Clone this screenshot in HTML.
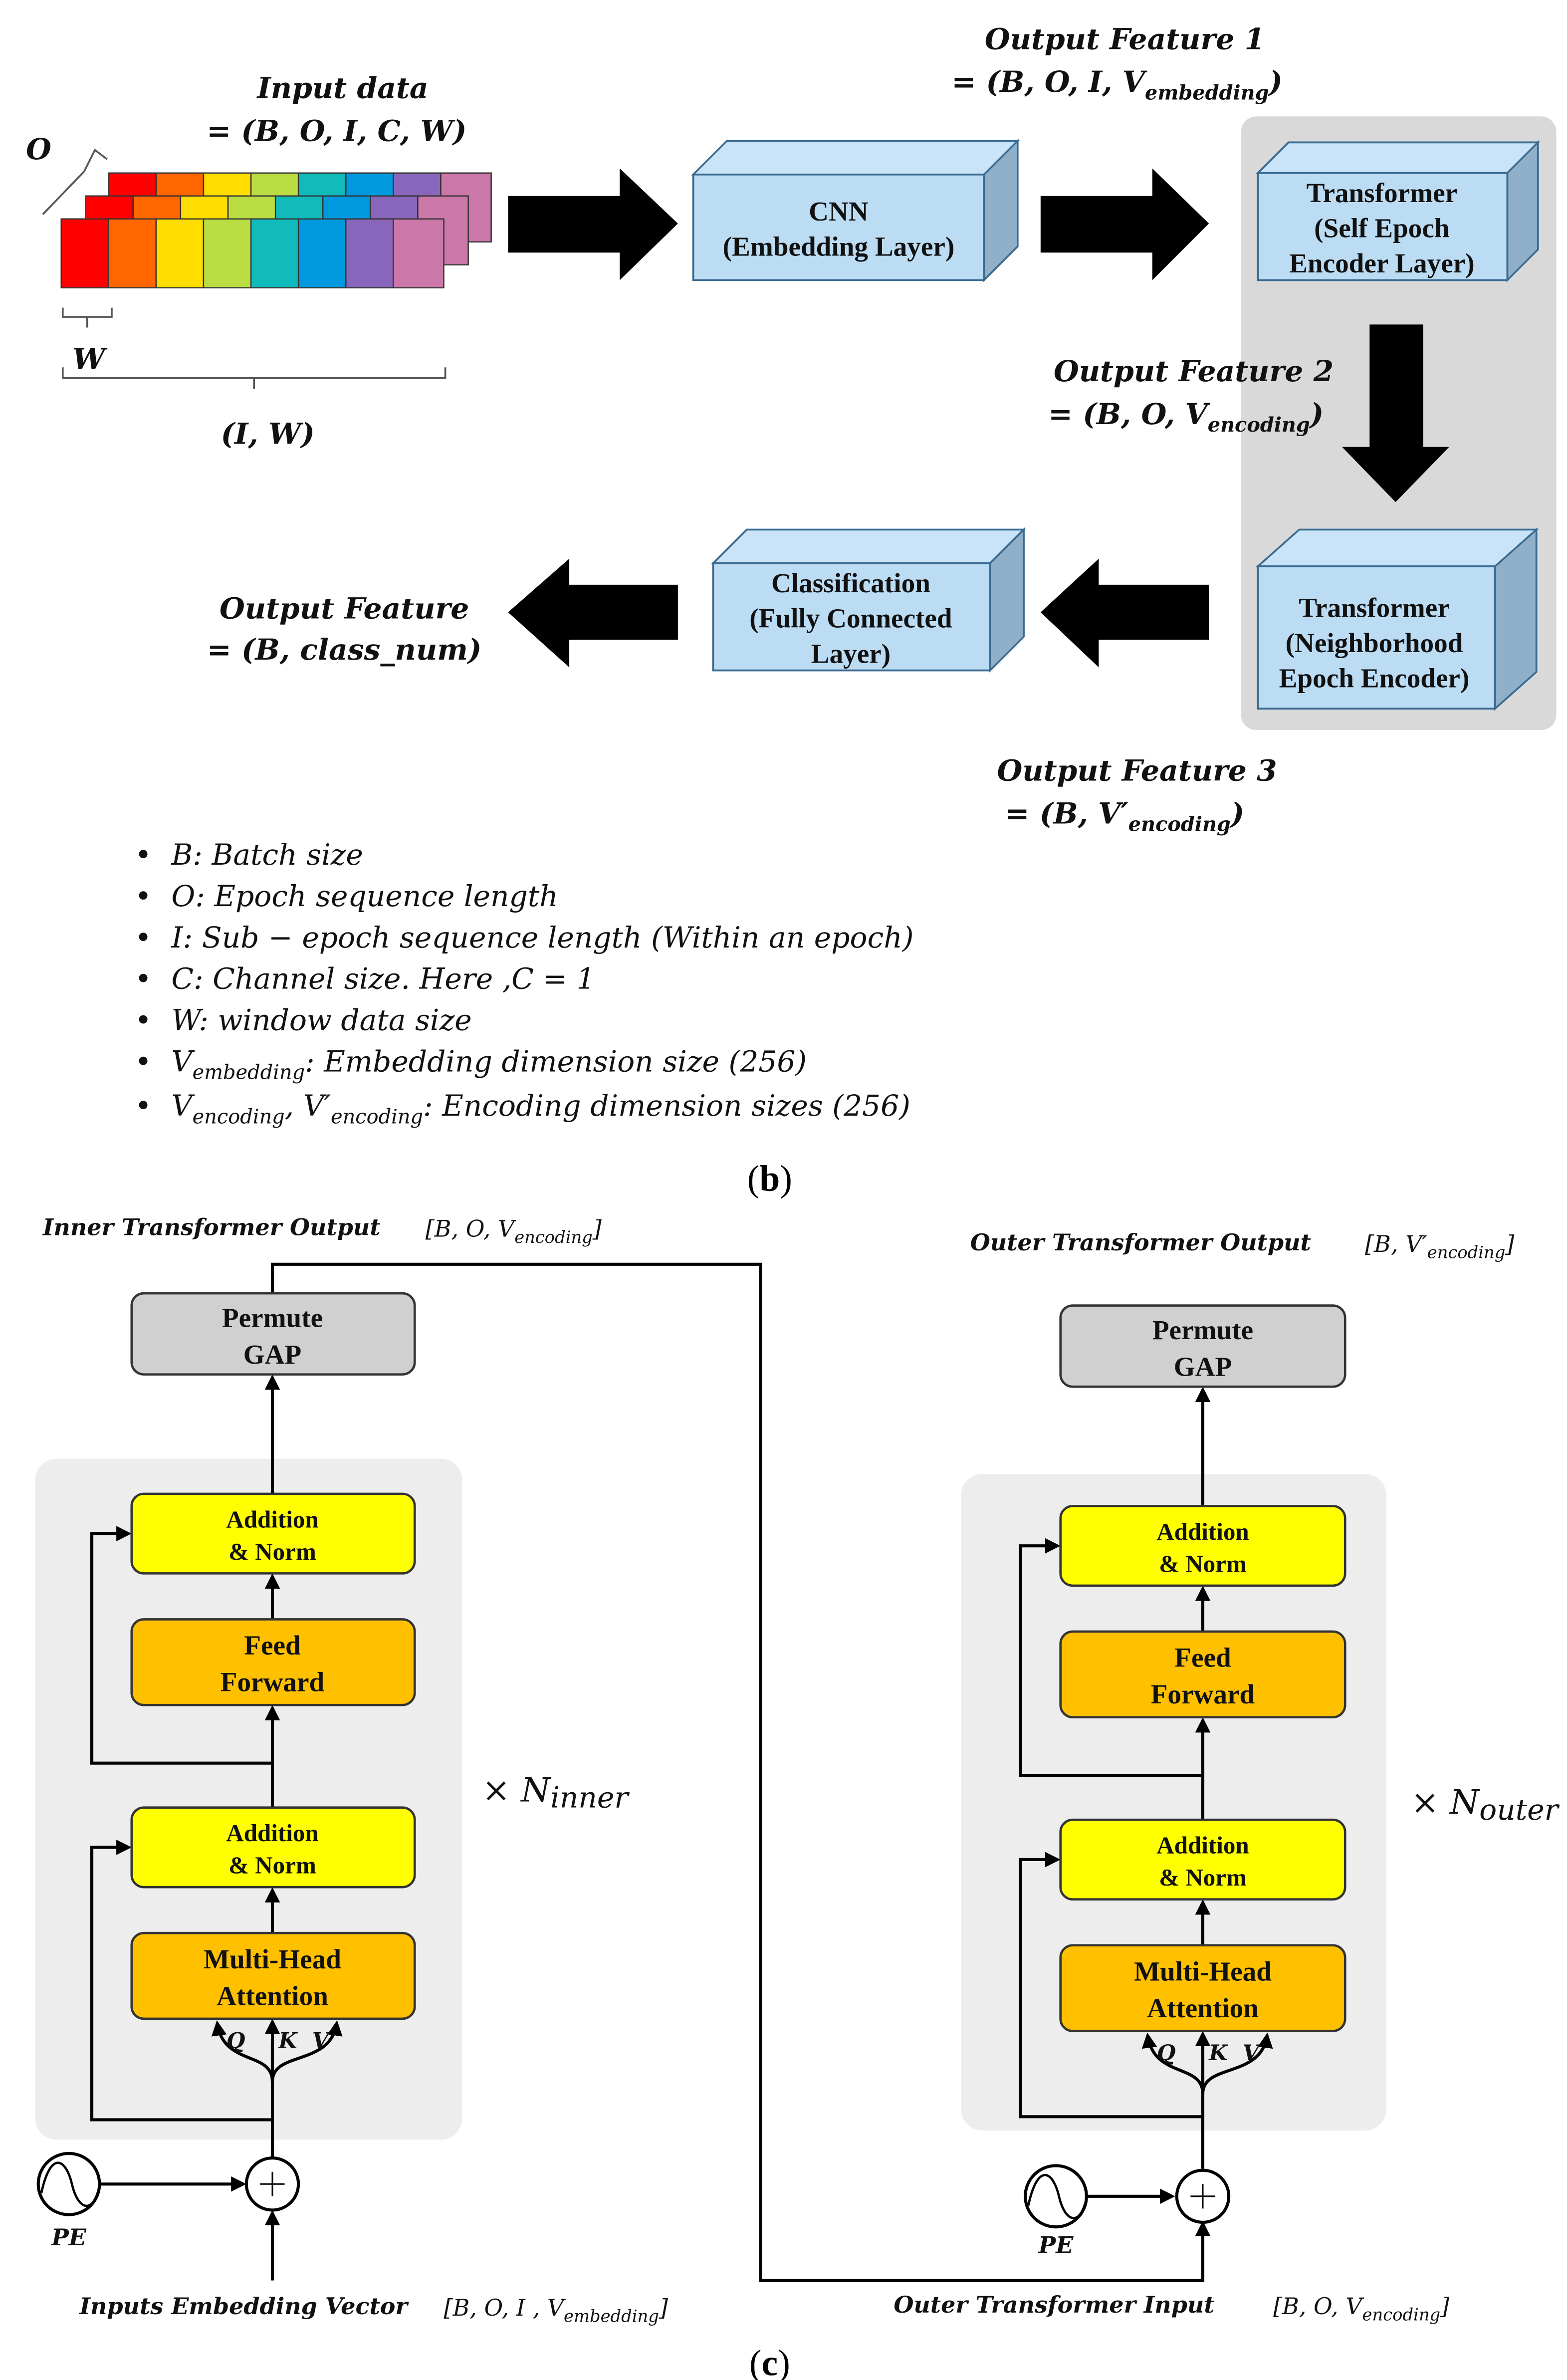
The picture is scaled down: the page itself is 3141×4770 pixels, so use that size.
<!DOCTYPE html>
<html><head><meta charset="utf-8"><style>
html,body{margin:0;padding:0;background:#fff;}
svg{display:block;}
.bx{font-family:"Liberation Serif",serif;font-weight:bold;text-anchor:middle;fill:#111;}
.m{font-family:"DejaVu Serif",serif;font-style:italic;fill:#111;}
.mb{font-family:"DejaVu Serif",serif;font-style:italic;font-weight:bold;fill:#111;}
</style></head><body>
<svg width="3141" height="4770" viewBox="0 0 1024 1555" xmlns="http://www.w3.org/2000/svg">
<defs>
<marker id="ah" markerWidth="10" markerHeight="10" refX="8" refY="5" orient="auto" markerUnits="userSpaceOnUse"><path d="M0,0 L10,5 L0,10 Z" fill="#000"/></marker>
</defs>
<rect width="1024" height="1555" fill="#fff"/>

<!-- gray panel -->
<rect x="811" y="76" width="206" height="401" rx="10" fill="#d9d9d9"/>

<!-- TOP -->
<text class="mb" x="735" y="32" font-size="19" text-anchor="middle">Output Feature 1</text>
<text class="mb" x="730" y="60" font-size="19" text-anchor="middle">= (B, O, I, V<tspan font-size="13" dy="5">embedding</tspan><tspan dy="-5">)</tspan></text>
<text class="mb" x="224" y="64" font-size="19" text-anchor="middle">Input data</text>
<text class="mb" x="220" y="92" font-size="19" text-anchor="middle">= (B, O, I, C, W)</text>
<text class="mb" x="17" y="104" font-size="19">O</text>
<path d="M28,140 L55,112 M55,112 L62,98 L70,104" stroke="#555" fill="none" stroke-width="1.2"/>

<g stroke="#333" stroke-width="0.8">
<g transform="translate(71,113)">
<rect x="0" width="31" height="45" fill="#f00"/><rect x="31" width="31" height="45" fill="#f60"/><rect x="62" width="31" height="45" fill="#fd0"/><rect x="93" width="31" height="45" fill="#bd4"/><rect x="124" width="31" height="45" fill="#1bb"/><rect x="155" width="31" height="45" fill="#09d"/><rect x="186" width="31" height="45" fill="#86b"/><rect x="217" width="33" height="45" fill="#c7a"/></g>
<g transform="translate(56,128)">
<rect x="0" width="31" height="45" fill="#f00"/><rect x="31" width="31" height="45" fill="#f60"/><rect x="62" width="31" height="45" fill="#fd0"/><rect x="93" width="31" height="45" fill="#bd4"/><rect x="124" width="31" height="45" fill="#1bb"/><rect x="155" width="31" height="45" fill="#09d"/><rect x="186" width="31" height="45" fill="#86b"/><rect x="217" width="33" height="45" fill="#c7a"/></g>
<g transform="translate(40,143)">
<rect x="0" width="31" height="45" fill="#f00"/><rect x="31" width="31" height="45" fill="#f60"/><rect x="62" width="31" height="45" fill="#fd0"/><rect x="93" width="31" height="45" fill="#bd4"/><rect x="124" width="31" height="45" fill="#1bb"/><rect x="155" width="31" height="45" fill="#09d"/><rect x="186" width="31" height="45" fill="#86b"/><rect x="217" width="33" height="45" fill="#c7a"/></g>
</g>
<path d="M41,201 L41,207 L57,207 L57,214 M57,207 L73,207 L73,201" stroke="#555" fill="none" stroke-width="1.2"/>
<text class="mb" x="58" y="241" font-size="19" text-anchor="middle">W</text>
<path d="M41,240 L41,247 L166,247 L166,254 M166,247 L291,247 L291,240" stroke="#555" fill="none" stroke-width="1.2"/>
<text class="mb" x="175" y="290" font-size="19" text-anchor="middle">(I, W)</text>

<!-- big arrows -->
<path d="M332,128 L405,128 L405,110 L443,146 L405,183 L405,165 L332,165 Z" fill="#000"/>
<path d="M680,128 L753,128 L753,110 L790,146 L753,183 L753,165 L680,165 Z" fill="#000"/>
<path d="M895,212 L930,212 L930,292 L947,292 L912,328 L877,292 L895,292 Z" fill="#000"/>
<path d="M790,382 L718,382 L718,365 L680,400 L718,436 L718,418 L790,418 Z" fill="#000"/>
<path d="M443,382 L372,382 L372,365 L332,400 L372,436 L372,418 L443,418 Z" fill="#000"/>

<!-- 3D boxes -->
<g stroke="#3a6a90" stroke-width="1.2">
<polygon points="453,114 475,92 665,92 643,114" fill="#c9e4f8"/>
<polygon points="643,114 665,92 665,161 643,183" fill="#8fb0c8"/>
<rect x="453" y="114" width="190" height="69" fill="#bcdcf4"/>
<polygon points="822,113 842,93 1005,93 985,113" fill="#c9e4f8"/>
<polygon points="985,113 1005,93 1005,163 985,183" fill="#8fb0c8"/>
<rect x="822" y="113" width="163" height="70" fill="#bcdcf4"/>
<polygon points="822,370 849,346 1004,346 977,370" fill="#c9e4f8"/>
<polygon points="977,370 1004,346 1004,439 977,463" fill="#8fb0c8"/>
<rect x="822" y="370" width="155" height="93" fill="#bcdcf4"/>
<polygon points="466,368 488,346 669,346 647,368" fill="#c9e4f8"/>
<polygon points="647,368 669,346 669,416 647,438" fill="#8fb0c8"/>
<rect x="466" y="368" width="181" height="70" fill="#bcdcf4"/>
</g>
<text class="bx" font-size="18"><tspan x="548" y="144">CNN</tspan><tspan x="548" y="167">(Embedding Layer)</tspan></text>
<text class="bx" font-size="18"><tspan x="903" y="132">Transformer</tspan><tspan x="903" y="155">(Self Epoch</tspan><tspan x="903" y="178">Encoder Layer)</tspan></text>
<text class="bx" font-size="18"><tspan x="898" y="403">Transformer</tspan><tspan x="898" y="426">(Neighborhood</tspan><tspan x="898" y="449">Epoch Encoder)</tspan></text>
<text class="bx" font-size="18"><tspan x="556" y="387">Classification</tspan><tspan x="556" y="410">(Fully Connected</tspan><tspan x="556" y="433">Layer)</tspan></text>

<text class="mb" x="780" y="249" font-size="19" text-anchor="middle">Output Feature 2</text>
<text class="mb" x="775" y="277" font-size="19" text-anchor="middle">= (B, O, V<tspan font-size="13" dy="5">encoding</tspan><tspan dy="-5">)</tspan></text>
<text class="mb" x="225" y="404" font-size="19" text-anchor="middle">Output Feature</text>
<text class="mb" x="225" y="431" font-size="19" text-anchor="middle">= (B, class_num)</text>
<text class="mb" x="743" y="510" font-size="19" text-anchor="middle">Output Feature 3</text>
<text class="mb" x="735" y="538" font-size="19" text-anchor="middle">= (B, V′<tspan font-size="13" dy="5">encoding</tspan><tspan dy="-5">)</tspan></text>

<!-- bullets -->
<g class="m" font-size="19">
<text x="88" y="565">•</text><text x="112" y="565">B: Batch size</text>
<text x="88" y="592">•</text><text x="112" y="592">O: Epoch sequence length</text>
<text x="88" y="619">•</text><text x="112" y="619">I: Sub − epoch sequence length (Within an epoch)</text>
<text x="88" y="646">•</text><text x="112" y="646">C: Channel size. Here ,C = 1</text>
<text x="88" y="673">•</text><text x="112" y="673">W: window data size</text>
<text x="88" y="700">•</text><text x="112" y="700">V<tspan font-size="13" dy="5">embedding</tspan><tspan dy="-5">: Embedding dimension size (256)</tspan></text>
<text x="88" y="729">•</text><text x="112" y="729">V<tspan font-size="13" dy="5">encoding</tspan><tspan dy="-5">, V′</tspan><tspan font-size="13" dy="5">encoding</tspan><tspan dy="-5">: Encoding dimension sizes (256)</tspan></text>
</g>
<text x="503" y="778" font-family="Liberation Serif,serif" font-size="24" text-anchor="middle">(<tspan font-weight="bold">b</tspan>)</text>

<!-- BOTTOM -->
<text class="mb" x="28" y="807" font-size="15">Inner Transformer Output</text>
<text class="m" x="278" y="808" font-size="15">[B, O, V<tspan font-size="11" dy="4">encoding</tspan><tspan dy="-4">]</tspan></text>
<text class="mb" x="634" y="817" font-size="15">Outer Transformer Output</text>
<text class="m" x="892" y="818" font-size="15">[B, V′<tspan font-size="11" dy="4">encoding</tspan><tspan dy="-4">]</tspan></text>

<path d="M178,845 L178,826 L497,826 L497,1490 L786,1490 L786,1453" stroke="#000" stroke-width="2" fill="none" marker-end="url(#ah)"/>

<!-- inner -->
<rect x="23" y="953" width="279" height="445" rx="14" fill="#eeeded"/>
<g stroke="#000" stroke-width="2" fill="none">
<path d="M178,1410 L178,1336" /><path d="M178,1385 L60,1385 L60,1207 L84,1207" marker-end="url(#ah)"/>
<path d="M178,1263 L178,1235" marker-end="url(#ah)"/>
<path d="M178,1181 L178,1116" marker-end="url(#ah)"/>
<path d="M178,1152 L60,1152 L60,1002 L84,1002" marker-end="url(#ah)"/>
<path d="M178,1058 L178,1030" marker-end="url(#ah)"/>
<path d="M178,976 L178,900" marker-end="url(#ah)"/>
<path d="M178,1360 C178,1340 146,1350 142,1322" marker-end="url(#ah)"/>
<path d="M178,1360 C178,1340 216,1350 220,1322" marker-end="url(#ah)"/>
<path d="M178,1360 L178,1321" marker-end="url(#ah)"/>
<path d="M178,1490 L178,1446" marker-end="url(#ah)"/>
<path d="M65,1427 L159,1427" marker-end="url(#ah)"/>
</g>
<rect x="86" y="845" width="185" height="53" rx="8" fill="#d0d0d0" stroke="#333" stroke-width="1.5"/>
<rect x="86" y="976" width="185" height="52" rx="8" fill="#ffff00" stroke="#333" stroke-width="1.5"/>
<rect x="86" y="1058" width="185" height="56" rx="8" fill="#ffc000" stroke="#333" stroke-width="1.5"/>
<rect x="86" y="1181" width="185" height="52" rx="8" fill="#ffff00" stroke="#333" stroke-width="1.5"/>
<rect x="86" y="1263" width="185" height="56" rx="8" fill="#ffc000" stroke="#333" stroke-width="1.5"/>
<text class="bx" font-size="18"><tspan x="178" y="867">Permute</tspan><tspan x="178" y="891">GAP</tspan></text>
<text class="bx" font-size="16"><tspan x="178" y="998">Addition</tspan><tspan x="178" y="1019">&amp; Norm</tspan></text>
<text class="bx" font-size="18"><tspan x="178" y="1081">Feed</tspan><tspan x="178" y="1105">Forward</tspan></text>
<text class="bx" font-size="16"><tspan x="178" y="1203">Addition</tspan><tspan x="178" y="1224">&amp; Norm</tspan></text>
<text class="bx" font-size="18"><tspan x="178" y="1286">Multi-Head</tspan><tspan x="178" y="1310">Attention</tspan></text>
<text class="mb" font-size="14"><tspan x="148" y="1338">Q</tspan><tspan x="182" y="1338">K</tspan><tspan x="204" y="1338">V</tspan></text>
<circle cx="178" cy="1427" r="17" fill="#fff" stroke="#000" stroke-width="2"/>
<path d="M170,1427 L186,1427 M178,1419 L178,1435" stroke="#000" stroke-width="1"/>
<circle cx="45" cy="1427" r="20" fill="#fff" stroke="#000" stroke-width="2"/>
<path d="M27,1433 C33,1405 43,1410 47,1427 C51,1444 60,1446 64,1432" stroke="#000" stroke-width="1.5" fill="none"/>
<text class="mb" x="45" y="1467" font-size="15" text-anchor="middle">PE</text>
<text class="m" x="315" y="1177" font-size="22">× N<tspan font-size="19" dy="4">inner</tspan></text>
<text class="mb" x="52" y="1512" font-size="15">Inputs Embedding Vector</text>
<text class="m" x="290" y="1513" font-size="15">[B, O, I , V<tspan font-size="11" dy="4">embedding</tspan><tspan dy="-4">]</tspan></text>

<!-- outer -->
<rect x="628" y="963" width="278" height="429" rx="14" fill="#eeeded"/>
<g stroke="#000" stroke-width="2" fill="none">
<path d="M786,1417 L786,1344" /><path d="M786,1383 L667,1383 L667,1215 L691,1215" marker-end="url(#ah)"/>
<path d="M786,1271 L786,1243" marker-end="url(#ah)"/>
<path d="M786,1189 L786,1124" marker-end="url(#ah)"/>
<path d="M786,1160 L667,1160 L667,1010 L691,1010" marker-end="url(#ah)"/>
<path d="M786,1066 L786,1038" marker-end="url(#ah)"/>
<path d="M786,984 L786,908" marker-end="url(#ah)"/>
<path d="M786,1368 C786,1348 754,1358 750,1330" marker-end="url(#ah)"/>
<path d="M786,1368 C786,1348 824,1358 828,1330" marker-end="url(#ah)"/>
<path d="M786,1368 L786,1329" marker-end="url(#ah)"/>
<path d="M710,1435 L766,1435" marker-end="url(#ah)"/>
</g>
<rect x="693" y="853" width="186" height="53" rx="8" fill="#d0d0d0" stroke="#333" stroke-width="1.5"/>
<rect x="693" y="984" width="186" height="52" rx="8" fill="#ffff00" stroke="#333" stroke-width="1.5"/>
<rect x="693" y="1066" width="186" height="56" rx="8" fill="#ffc000" stroke="#333" stroke-width="1.5"/>
<rect x="693" y="1189" width="186" height="52" rx="8" fill="#ffff00" stroke="#333" stroke-width="1.5"/>
<rect x="693" y="1271" width="186" height="56" rx="8" fill="#ffc000" stroke="#333" stroke-width="1.5"/>
<text class="bx" font-size="18"><tspan x="786" y="875">Permute</tspan><tspan x="786" y="899">GAP</tspan></text>
<text class="bx" font-size="16"><tspan x="786" y="1006">Addition</tspan><tspan x="786" y="1027">&amp; Norm</tspan></text>
<text class="bx" font-size="18"><tspan x="786" y="1089">Feed</tspan><tspan x="786" y="1113">Forward</tspan></text>
<text class="bx" font-size="16"><tspan x="786" y="1211">Addition</tspan><tspan x="786" y="1232">&amp; Norm</tspan></text>
<text class="bx" font-size="18"><tspan x="786" y="1294">Multi-Head</tspan><tspan x="786" y="1318">Attention</tspan></text>
<text class="mb" font-size="14"><tspan x="756" y="1346">Q</tspan><tspan x="790" y="1346">K</tspan><tspan x="812" y="1346">V</tspan></text>
<circle cx="786" cy="1435" r="17" fill="#fff" stroke="#000" stroke-width="2"/>
<path d="M778,1435 L794,1435 M786,1427 L786,1443" stroke="#000" stroke-width="1"/>
<circle cx="690" cy="1435" r="20" fill="#fff" stroke="#000" stroke-width="2"/>
<path d="M672,1441 C678,1413 688,1418 692,1435 C696,1452 705,1454 709,1440" stroke="#000" stroke-width="1.5" fill="none"/>
<text class="mb" x="690" y="1472" font-size="15" text-anchor="middle">PE</text>
<text class="m" x="922" y="1185" font-size="22">× N<tspan font-size="19" dy="4">outer</tspan></text>
<text class="mb" x="584" y="1511" font-size="15">Outer Transformer Input</text>
<text class="m" x="832" y="1512" font-size="15">[B, O, V<tspan font-size="11" dy="4">encoding</tspan><tspan dy="-4">]</tspan></text>

<text x="503" y="1552" font-family="Liberation Serif,serif" font-size="24" text-anchor="middle">(<tspan font-weight="bold">c</tspan>)</text>
</svg>
</body></html>
